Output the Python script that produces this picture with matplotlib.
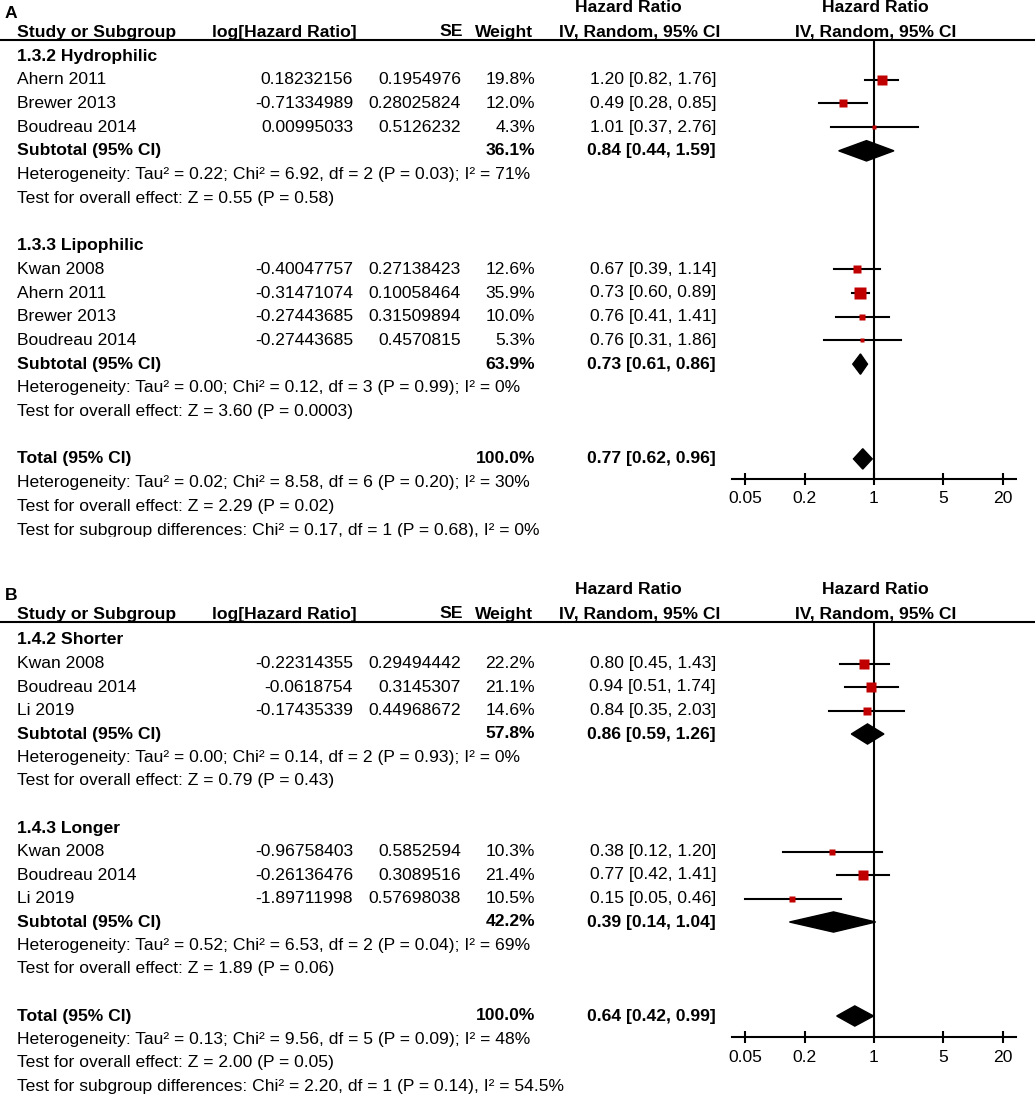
import numpy as np
import matplotlib.pyplot as plt
from matplotlib.patches import Polygon, Rectangle
from matplotlib.lines import Line2D

plt.rcParams['font.family'] = ['Liberation Sans', 'DejaVu Sans']
FS = 12.6
W, H = 1035, 1099
RED = '#C00000'

# ---------- panel A: hydrophilic vs lipophilic ----------
a_groups = ["1.3.2 Hydrophilic", "1.3.3 Lipophilic"]
a_study = ["Ahern 2011", "Brewer 2013", "Boudreau 2014",
           "Kwan 2008", "Ahern 2011", "Brewer 2013", "Boudreau 2014"]
a_group_of = [0, 0, 0, 1, 1, 1, 1]
a_loghr = [0.18232156, -0.71334989, 0.00995033,
           -0.40047757, -0.31471074, -0.27443685, -0.27443685]
a_se = [0.1954976, 0.28025824, 0.5126232,
        0.27138423, 0.10058464, 0.31509894, 0.4570815]
a_weight = [19.8, 12.0, 4.3, 12.6, 35.9, 10.0, 5.3]
a_hr = [1.20, 0.49, 1.01, 0.67, 0.73, 0.76, 0.76]
a_lo = [0.82, 0.28, 0.37, 0.39, 0.60, 0.41, 0.31]
a_hi = [1.76, 0.85, 2.76, 1.14, 0.89, 1.41, 1.86]
a_sub_weight = [36.1, 63.9]
a_sub_hr = [0.84, 0.73]
a_sub_lo = [0.44, 0.61]
a_sub_hi = [1.59, 0.86]
a_sub_het = ["Heterogeneity: Tau² = 0.22; Chi² = 6.92, df = 2 (P = 0.03); I² = 71%",
             "Heterogeneity: Tau² = 0.00; Chi² = 0.12, df = 3 (P = 0.99); I² = 0%"]
a_sub_z = ["Test for overall effect: Z = 0.55 (P = 0.58)",
           "Test for overall effect: Z = 3.60 (P = 0.0003)"]
a_tot = [0.77, 0.62, 0.96]
a_tot_lines = ["Heterogeneity: Tau² = 0.02; Chi² = 8.58, df = 6 (P = 0.20); I² = 30%",
               "Test for overall effect: Z = 2.29 (P = 0.02)",
               "Test for subgroup differences: Chi² = 0.17, df = 1 (P = 0.68), I² = 0%"]

# ---------- panel B: shorter vs longer ----------
b_groups = ["1.4.2 Shorter", "1.4.3 Longer"]
b_study = ["Kwan 2008", "Boudreau 2014", "Li 2019",
           "Kwan 2008", "Boudreau 2014", "Li 2019"]
b_group_of = [0, 0, 0, 1, 1, 1]
b_loghr = [-0.22314355, -0.0618754, -0.17435339,
           -0.96758403, -0.26136476, -1.89711998]
b_se = [0.29494442, 0.3145307, 0.44968672,
        0.5852594, 0.3089516, 0.57698038]
b_weight = [22.2, 21.1, 14.6, 10.3, 21.4, 10.5]
b_hr = [0.80, 0.94, 0.84, 0.38, 0.77, 0.15]
b_lo = [0.45, 0.51, 0.35, 0.12, 0.42, 0.05]
b_hi = [1.43, 1.74, 2.03, 1.20, 1.41, 0.46]
b_sub_weight = [57.8, 42.2]
b_sub_hr = [0.86, 0.39]
b_sub_lo = [0.59, 0.14]
b_sub_hi = [1.26, 1.04]
b_sub_het = ["Heterogeneity: Tau² = 0.00; Chi² = 0.14, df = 2 (P = 0.93); I² = 0%",
             "Heterogeneity: Tau² = 0.52; Chi² = 6.53, df = 2 (P = 0.04); I² = 69%"]
b_sub_z = ["Test for overall effect: Z = 0.79 (P = 0.43)",
           "Test for overall effect: Z = 1.89 (P = 0.06)"]
b_tot = [0.64, 0.42, 0.99]
b_tot_lines = ["Heterogeneity: Tau² = 0.13; Chi² = 9.56, df = 5 (P = 0.09); I² = 48%",
               "Test for overall effect: Z = 2.00 (P = 0.05)",
               "Test for subgroup differences: Chi² = 2.20, df = 1 (P = 0.14), I² = 54.5%"]

ticks = [0.05, 0.2, 1, 5, 20]
tick_labels = ["0.05", "0.2", "1", "5", "20"]

fig = plt.figure(figsize=(W / 100, H / 100), dpi=100)
bg = fig.add_axes([0, 0, 1, 1])
bg.set_xlim(0, W)
bg.set_ylim(H, 0)
bg.axis('off')

# column positions (pixels)
X_NAME, X_LOG, X_SE, X_W, X_CI = 17, 353, 461, 535, 716
X_ONE, PX_DEC = 874, 99.0
AX_L, AX_R = 732, 1016


def ci_text(h, l, u):
    return f"{h:.2f} [{l:.2f}, {u:.2f}]"


def draw_panel(label, groups, study, group_of, loghr, se, weight, hr, lo, hi,
               sub_weight, sub_hr, sub_lo, sub_hi, sub_het, sub_z, tot, tot_lines,
               line_y, row0, dy, axis_gap):
    # headers
    bg.text(5, line_y - 27, label, fontsize=FS, fontweight='bold', va='center')
    hy1, hy2 = line_y - 32, line_y - 8
    bg.text(X_NAME, hy2, "Study or Subgroup", fontsize=FS, fontweight='bold', va='center')
    bg.text(212, hy2, "log[Hazard Ratio]", fontsize=FS, fontweight='bold', va='center')
    bg.text(463, hy2, "SE", fontsize=FS, fontweight='bold', va='center', ha='right')
    bg.text(533, hy2, "Weight", fontsize=FS, fontweight='bold', va='center', ha='right')
    bg.text(628, hy1, "Hazard Ratio", fontsize=FS, fontweight='bold', va='center', ha='center')
    bg.text(640, hy2, "IV, Random, 95% CI", fontsize=FS, fontweight='bold', va='center', ha='center')
    bg.text(875, hy1, "Hazard Ratio", fontsize=FS, fontweight='bold', va='center', ha='center')
    bg.text(876, hy2, "IV, Random, 95% CI", fontsize=FS, fontweight='bold', va='center', ha='center')
    bg.add_line(Line2D([0, W], [line_y, line_y], color='black', lw=1.5))

    # row layout
    rows = []
    for g in range(len(groups)):
        rows.append(('head', g))
        for i in range(len(study)):
            if group_of[i] == g:
                rows.append(('study', i))
        rows.append(('sub', g))
        rows.append(('het', g))
        rows.append(('z', g))
        rows.append(('blank', g))
    rows.append(('total', 0))
    for k in range(len(tot_lines)):
        rows.append(('tline', k))

    total_row = [r for r, (kind, _) in enumerate(rows) if kind == 'total'][0]
    axis_y = row0 + total_row * dy + axis_gap

    xmin = 10 ** ((AX_L - X_ONE) / PX_DEC)
    xmax = 10 ** ((AX_R - X_ONE) / PX_DEC)
    ax = fig.add_axes([AX_L / W, 1 - axis_y / H, (AX_R - AX_L) / W, (axis_y - line_y) / H])
    ax.set_xscale('log')
    ax.set_xlim(xmin, xmax)
    ax.set_ylim(axis_y, line_y)
    ax.patch.set_visible(False)
    for s in ['top', 'left', 'right']:
        ax.spines[s].set_visible(False)
    ax.spines['bottom'].set_linewidth(1.5)
    ax.set_yticks([])
    ax.set_xticks(ticks)
    ax.set_xticklabels(tick_labels, fontsize=FS)
    ax.minorticks_off()
    ax.tick_params(axis='x', direction='inout', length=8, width=1.5, pad=5)
    ax.axvline(1, color='black', lw=1.5, zorder=1)

    half = 0.43 * dy
    for r, (kind, idx) in enumerate(rows):
        y = row0 + r * dy
        if kind == 'head':
            bg.text(X_NAME, y, groups[idx], fontsize=FS, fontweight='bold', va='center')
        elif kind == 'study':
            bg.text(X_NAME, y, study[idx], fontsize=FS, va='center')
            bg.text(X_LOG, y, str(loghr[idx]), fontsize=FS, va='center', ha='right')
            bg.text(X_SE, y, str(se[idx]), fontsize=FS, va='center', ha='right')
            bg.text(X_W, y, f"{weight[idx]:.1f}%", fontsize=FS, va='center', ha='right')
            bg.text(X_CI, y, ci_text(hr[idx], lo[idx], hi[idx]), fontsize=FS, va='center', ha='right')
            ax.plot([lo[idx], hi[idx]], [y, y], color='black', lw=1.5, zorder=2)
            ax.plot(hr[idx], y, marker='s', ms=1.5 * np.sqrt(weight[idx]),
                    color=RED, mec='none', zorder=3)
        elif kind == 'sub':
            bg.text(X_NAME, y, "Subtotal (95% CI)", fontsize=FS, fontweight='bold', va='center')
            bg.text(X_W, y, f"{sub_weight[idx]:.1f}%", fontsize=FS, fontweight='bold', va='center', ha='right')
            bg.text(X_CI, y, ci_text(sub_hr[idx], sub_lo[idx], sub_hi[idx]), fontsize=FS,
                    fontweight='bold', va='center', ha='right')
            ax.add_patch(Polygon([(sub_lo[idx], y), (sub_hr[idx], y - half),
                                  (sub_hi[idx], y), (sub_hr[idx], y + half)],
                                 closed=True, color='black', zorder=3))
        elif kind == 'het':
            bg.text(X_NAME, y, sub_het[idx], fontsize=FS, va='center')
        elif kind == 'z':
            bg.text(X_NAME, y, sub_z[idx], fontsize=FS, va='center')
        elif kind == 'total':
            bg.text(X_NAME, y, "Total (95% CI)", fontsize=FS, fontweight='bold', va='center')
            bg.text(X_W, y, "100.0%", fontsize=FS, fontweight='bold', va='center', ha='right')
            bg.text(X_CI, y, ci_text(*tot), fontsize=FS, fontweight='bold', va='center', ha='right')
            ax.add_patch(Polygon([(tot[1], y), (tot[0], y - half),
                                  (tot[2], y), (tot[0], y + half)],
                                 closed=True, color='black', zorder=3))
        elif kind == 'tline':
            bg.text(X_NAME, y, tot_lines[idx], fontsize=FS, va='center')
    return ax


draw_panel("A", a_groups, a_study, a_group_of, a_loghr, a_se, a_weight, a_hr, a_lo, a_hi,
           a_sub_weight, a_sub_hr, a_sub_lo, a_sub_hi, a_sub_het, a_sub_z, a_tot, a_tot_lines,
           line_y=40, row0=56, dy=23.7, axis_gap=20)
draw_panel("B", b_groups, b_study, b_group_of, b_loghr, b_se, b_weight, b_hr, b_lo, b_hi,
           b_sub_weight, b_sub_hr, b_sub_lo, b_sub_hi, b_sub_het, b_sub_z, b_tot, b_tot_lines,
           line_y=622, row0=640, dy=23.5, axis_gap=21)

# the first panel is cropped just below its last line
bg.add_patch(Rectangle((0, 537), W, 30, color='white', zorder=10))

fig.savefig("out.png", dpi=100)
